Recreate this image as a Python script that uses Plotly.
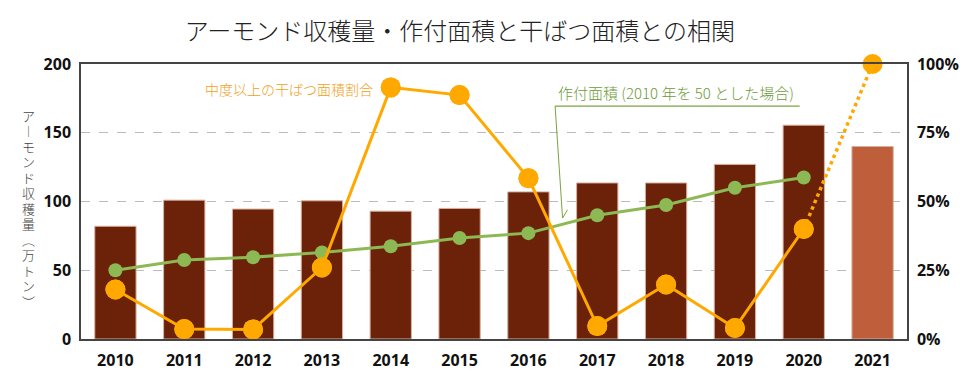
import plotly.graph_objects as go

years = ["2010", "2011", "2012", "2013", "2014", "2015", "2016", "2017", "2018", "2019", "2020", "2021"]
harvest = [82, 101, 94.5, 100.5, 93, 95, 107, 113.5, 113.5, 127, 155.5, 140]
area_index = [50, 57.5, 59.5, 63, 67.5, 73.5, 77, 90, 97.5, 110, 117.5]
drought_pct = [18, 3.6, 3.5, 26, 91.5, 88.7, 58.5, 4.7, 19.8, 4.0, 40, 100]
left_ticks = [0, 50, 100, 150, 200]
right_ticks = [0, 25, 50, 75, 100]
right_labels = ["0%", "25%", "50%", "75%", "100%"]
ytitle_chars = ["ア", "︱", "モ", "ン", "ド", "収", "穫", "量", "︵", "万", "ト", "ン", "︶"]

bar_colors = ["#6B2208"] * 11 + ["#BF5E3B"]
ORANGE = "#FFA800"
GREEN = "#8DB954"
JP = "Noto Sans CJK JP"

fig = go.Figure()
fig.add_trace(go.Bar(x=years, y=harvest, marker=dict(color=bar_colors, line=dict(color="#d8b0a0", width=1)),
                     width=0.6, yaxis="y", showlegend=False, hoverinfo="y"))
fig.add_trace(go.Scatter(x=years[:11], y=area_index, mode="lines+markers", yaxis="y",
                         line=dict(color=GREEN, width=3), marker=dict(size=14, color=GREEN), showlegend=False))
fig.add_trace(go.Scatter(x=years[10:], y=drought_pct[10:], mode="lines", yaxis="y2",
                         line=dict(color=ORANGE, width=3.5, dash="dot"), showlegend=False))
fig.add_trace(go.Scatter(x=years, y=drought_pct, mode="markers", yaxis="y2", cliponaxis=False,
                         marker=dict(size=20, color=ORANGE), showlegend=False))
fig.add_trace(go.Scatter(x=years[:11], y=drought_pct[:11], mode="lines+markers", yaxis="y2",
                         line=dict(color=ORANGE, width=3), marker=dict(size=20, color=ORANGE), showlegend=False))

tickfont = dict(family="Open Sans", size=16, color="#111", weight="bold")
fig.update_layout(
    width=960, height=389,
    margin=dict(l=81, r=53, t=64, b=50),
    plot_bgcolor="white", paper_bgcolor="white",
    title=dict(text="アーモンド収穫量・作付面積と干ばつ面積との相関", x=0.479, xref="container", xanchor="center",
               y=0.92, yref="container", yanchor="middle",
               font=dict(family=JP, size=24, color="#222", weight=300)),
    xaxis=dict(range=[-0.5, 11.5], showline=True, linecolor="#444", linewidth=1.5, mirror=True, ticks="",
               automargin=False, tickfont=tickfont, ticklabelstandoff=6, showgrid=False, fixedrange=True),
    yaxis=dict(range=[0, 200], tickvals=left_ticks, showline=True, linecolor="#444", linewidth=1.5,
               ticks="", tickfont=tickfont, ticklabelstandoff=5, showgrid=True, gridcolor="#bbbbbb",
               griddash="dash", gridwidth=1, zeroline=False, automargin=False),
    yaxis2=dict(range=[0, 100], tickvals=right_ticks, ticktext=right_labels, overlaying="y", side="right",
                showline=True, linecolor="#444", linewidth=1.5, ticks="", tickfont=tickfont, ticklabelstandoff=5,
                showgrid=False, zeroline=False, automargin=False),
)

# vertical axis title (stacked upright characters)
top_y, bot_y = 0.8145, 0.138
n = len(ytitle_chars)
for i, ch in enumerate(ytitle_chars):
    fig.add_annotation(text=ch, xref="paper", yref="paper", x=-0.064,
                       y=top_y - i * (top_y - bot_y) / (n - 1), xanchor="center", yanchor="middle",
                       showarrow=False, font=dict(family=JP, size=13, color="#444", weight=300))

fig.add_annotation(text="中度以上の干ばつ面積割合", xref="paper", yref="paper", x=0.356, y=0.91,
                   xanchor="right", yanchor="middle", showarrow=False,
                   font=dict(family=JP, size=14, color="#F0A020", weight=300))

fig.add_annotation(text="作付面積 (2010 年を 50 とした場合)", xref="paper", yref="paper", x=0.575, y=0.85,
                   xanchor="left", yanchor="bottom", showarrow=False,
                   font=dict(family=JP, size=15, color="#6E9A3A", weight=300))
fig.add_shape(type="line", xref="paper", yref="paper", x0=0.574, x1=0.870, y0=0.847, y1=0.847,
              line=dict(color="#7AA340", width=1.2))
fig.add_shape(type="line", xref="paper", yref="paper", x0=0.574, x1=0.583, y0=0.847, y1=0.44,
              line=dict(color="#7AA340", width=1))
fig.add_shape(type="line", xref="paper", yref="paper", x0=0.583, x1=0.589, y0=0.44, y1=0.47,
              line=dict(color="#7AA340", width=1))

fig.write_html("out.html", config={"displayModeBar": False},
               post_script="document.body.style.margin='0';")
